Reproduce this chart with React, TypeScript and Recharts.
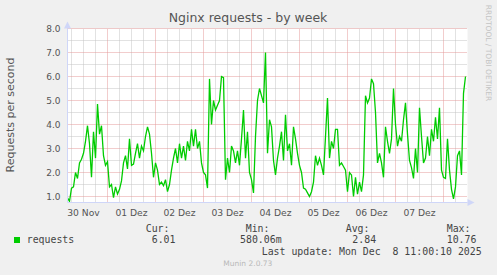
import React from "react";
import {
  LineChart,
  Line,
  XAxis,
  YAxis,
  ReferenceLine,
  ReferenceArea,
  ReferenceDot,
} from "recharts";

// hourly request rate, 200 hours ending Mon Dec 8
const requests = [
  0.95, 0.8, 1.35, 1.4, 2.0, 1.75, 2.4, 2.55, 2.8, 3.3,
  3.95, 3.2, 1.8, 3.7, 2.6, 4.85, 3.6, 3.95, 2.7, 2.3,
  2.45, 1.4, 1.5, 0.95, 1.4, 1.1, 1.3, 1.65, 2.4, 2.7,
  2.15, 3.4, 2.3, 2.35, 2.8, 3.2, 2.6, 3.1, 2.9, 3.5,
  3.9, 3.6, 2.8, 1.8, 2.4, 2.1, 1.5, 1.6, 1.45, 1.7,
  1.2, 1.5, 2.1, 2.6, 3.0, 2.4, 3.2, 2.6, 3.1, 2.5,
  3.3, 2.9, 3.8, 3.1, 3.8, 3.0, 3.3, 2.4, 2.0, 1.9,
  1.35, 5.9, 4.0, 5.0, 4.6, 4.8, 5.0, 6.0, 5.95, 1.7,
  2.6, 2.0, 3.1, 2.9, 2.4, 2.9, 2.3, 3.4, 4.6, 2.6,
  3.7, 2.0, 1.7, 1.15, 3.5, 5.0, 5.5, 5.2, 4.9, 7.0,
  2.8, 4.2, 3.9, 2.5, 1.9, 2.6, 3.1, 3.7, 2.5, 4.4,
  2.9, 3.2, 2.3, 3.9, 3.4, 2.8, 2.3, 2.0, 1.35, 1.3,
  1.15, 1.0, 1.2, 1.6, 2.7, 2.3, 2.6, 2.3, 1.9, 3.5,
  5.1, 2.6, 3.3, 3.0, 3.8, 3.8, 2.3, 2.4, 2.25, 2.1,
  1.2, 2.0, 1.9, 1.0, 1.8, 1.1, 1.6, 1.2, 1.9, 5.2,
  4.9, 5.1, 5.9, 5.7, 4.5, 2.4, 2.8, 2.4, 1.8, 3.9,
  3.3, 2.8, 3.4, 5.5, 4.0, 3.1, 3.5, 3.3, 4.2, 4.9,
  3.6, 2.5, 2.2, 1.75, 3.0, 2.0, 4.7, 3.5, 2.4, 2.6,
  3.5, 2.7, 3.8, 3.3, 4.3, 3.4, 4.7, 2.1, 1.8, 1.75,
  3.4, 2.1, 1.3, 0.9, 1.4, 2.7, 2.9, 1.9, 5.3, 6.0,
];

const dayLabels = ["30 Nov", "01 Dez", "02 Dez", "03 Dez", "04 Dez", "05 Dez", "06 Dez", "07 Dez"];
const labelHours = [8, 32, 56, 80, 104, 128, 152, 176];
const midnightHours = [20, 44, 68, 92, 116, 140, 164, 188];
const sixHourMarks = [2, 8, 14, 26, 32, 38, 50, 56, 62, 74, 80, 86, 98, 104, 110, 122, 128, 134, 146, 152, 158, 170, 176, 182, 194];
const yTicks = [1, 2, 3, 4, 5, 6, 7, 8];
const yMinor = [1.5, 2.5, 3.5, 4.5, 5.5, 6.5, 7.5];

const legendHeads = ["Cur:", "Min:", "Avg:", "Max:"];
const legendValues = ["6.01", "580.06m", "2.84", "10.76"];
const headX = [145.7, 245.7, 345.7, 446.7];
const valueX = [151.7, 240, 352.3, 446.7];

const data = requests.map((v, i) => ({ h: i, v }));

const mono = "'DejaVu Sans Mono', monospace";
const sans = "'DejaVu Sans', sans-serif";
const axisColor = "#cfd6f8";

const abs = (left: number, top: number, extra: React.CSSProperties = {}): React.CSSProperties => ({
  position: "absolute",
  left,
  top,
  lineHeight: 1,
  whiteSpace: "pre",
  ...extra,
});

export default function App() {
  return (
    <div
      style={{
        position: "absolute",
        left: 0,
        top: 0,
        width: 497,
        height: 275,
        background: "#f0f0f0",
        overflow: "hidden",
        fontFamily: sans,
      }}
    >
      <LineChart
        width={497}
        height={275}
        data={data}
        margin={{ top: 28.5, right: 29.5, bottom: 42.5, left: 0 }}
        style={{ position: "absolute", left: 0, top: 0 }}
      >
        <XAxis
          dataKey="h"
          type="number"
          domain={[0, 200]}
          ticks={labelHours}
          tickFormatter={(h: number) => dayLabels[labelHours.indexOf(h)]}
          interval={0}
          axisLine={{ stroke: axisColor }}
          tickLine={false}
          tickSize={5}
          tickMargin={2}
          tick={{ fontSize: 9.2, fill: "#555", fontFamily: sans }}
          allowDataOverflow
        />
        <YAxis
          type="number"
          domain={[0.75, 8]}
          ticks={yTicks}
          tickFormatter={(v: number) => v.toFixed(1)}
          width={67.5}
          axisLine={{ stroke: axisColor }}
          tickLine={false}
          tickSize={4}
          tickMargin={3}
          tick={{ fontSize: 9, fill: "#555", fontFamily: sans }}
          allowDataOverflow
        />
        <ReferenceArea x1={0} x2={200} y1={0.75} y2={8} fill="#ffffff" fillOpacity={1} stroke="none" />
        {yMinor.map((y) => (
          <ReferenceLine key={`ym${y}`} y={y} stroke="#c4c4c4" strokeDasharray="1 1" />
        ))}
        {sixHourMarks.map((h) => (
          <ReferenceLine key={`xm${h}`} x={h} stroke="#c4c4c4" strokeDasharray="1 1" />
        ))}
        {yTicks.map((y) => (
          <ReferenceLine key={`yM${y}`} y={y} stroke="#e59a9a" strokeDasharray="1 1" />
        ))}
        {midnightHours.map((h) => (
          <ReferenceLine key={`xM${h}`} x={h} stroke="#e59a9a" strokeDasharray="1 1" />
        ))}
        <Line
          dataKey="v"
          type="linear"
          stroke="#00cc00"
          strokeWidth={1.3}
          dot={false}
          isAnimationActive={false}
        />
        <ReferenceDot
          x={0}
          y={8}
          ifOverflow="visible"
          shape={(p: any) => (
            <path
              d={`M${p.cx - 3.5},${p.cy} L${p.cx},${p.cy - 7} L${p.cx + 3.5},${p.cy} Z`}
              fill={axisColor}
            />
          )}
        />
        <ReferenceDot
          x={200}
          y={0.75}
          ifOverflow="visible"
          shape={(p: any) => (
            <path
              d={`M${p.cx},${p.cy - 3.5} L${p.cx + 7},${p.cy} L${p.cx},${p.cy + 3.5} Z`}
              fill={axisColor}
            />
          )}
        />
      </LineChart>

      <div style={abs(248, 12.4, { fontSize: 12.5, color: "#555", transform: "translateX(-50%)" })}>
        Nginx requests - by week
      </div>
      <div
        style={abs(10.2, 115, {
          fontSize: 11,
          color: "#555",
          transform: "translate(-50%, -50%) rotate(-90deg)",
        })}
      >
        Requests per second
      </div>
      <div
        style={abs(487.6, 53, {
          fontSize: 7.5,
          color: "#c4c4c4",
          transform: "translate(-50%, -50%) rotate(90deg)",
        })}
      >
        RRDTOOL / TOBI OETIKER
      </div>

      {legendHeads.map((t, i) => (
        <div key={t} style={abs(headX[i], 223.5, { fontSize: 9.9, fontFamily: mono, color: "#444" })}>
          {t}
        </div>
      ))}
      <div style={{ position: "absolute", left: 14, top: 237, width: 6, height: 6, background: "#00cc00" }} />
      <div style={abs(26.7, 235.2, { fontSize: 9.9, fontFamily: mono, color: "#444" })}>requests</div>
      {legendValues.map((t, i) => (
        <div key={t} style={abs(valueX[i], 235.2, { fontSize: 9.9, fontFamily: mono, color: "#444" })}>
          {t}
        </div>
      ))}
      <div style={abs(261.7, 246.8, { fontSize: 9.9, fontFamily: mono, color: "#444" })}>
        Last update: Mon Dec  8 11:00:10 2025
      </div>
      <div style={abs(223.3, 260.3, { fontSize: 7.5, color: "#b8b8b8" })}>Munin 2.0.73</div>
    </div>
  );
}
